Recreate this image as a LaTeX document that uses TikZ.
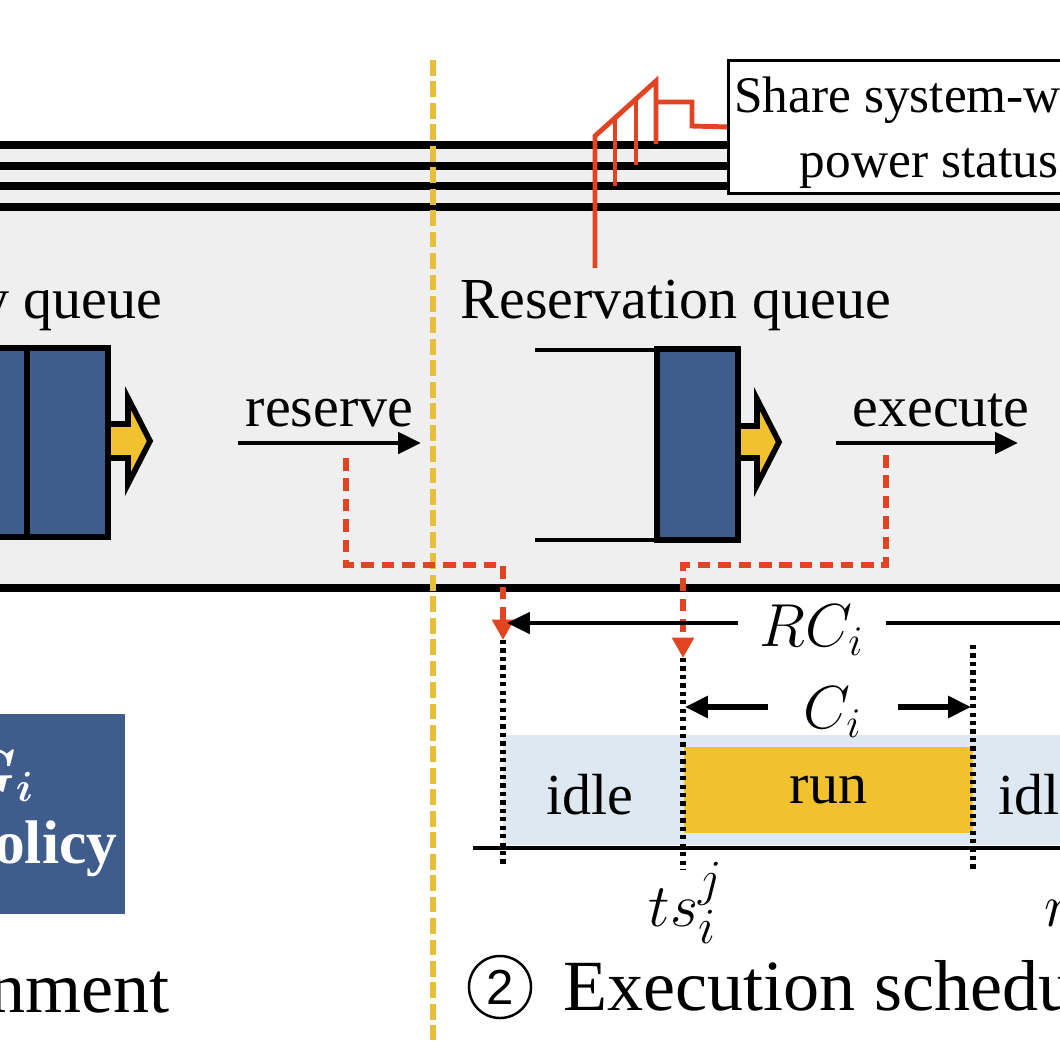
\documentclass[tikz,border=0pt]{standalone}
\usepackage{fontspec}
\setmainfont{Liberation Serif}
\newfontfamily\digitfont{Liberation Sans}
\usepackage{bm}
\usetikzlibrary{arrows.meta,positioning}

\definecolor{qblue}{RGB}{63,93,140}
\definecolor{qyellow}{RGB}{242,193,46}
\definecolor{sepyellow}{RGB}{232,191,61}
\definecolor{sigred}{RGB}{226,68,34}
\definecolor{bandgray}{RGB}{239,239,239}
\definecolor{idleblue}{RGB}{221,232,241}

\tikzset{
  lbl/.style={inner sep=0pt,font=\fontsize{16.5}{18.5}\selectfont},
  mathlbl/.style={inner sep=0pt,font=\fontsize{18}{20}\selectfont},
  bus/.style={line width=2.1pt},
  job/.style={draw,fill=qblue,line width=1.7pt},
  fatarrow/.style={draw,fill=qyellow,line width=1.6pt},
  sig/.style={draw=sigred,line width=1.4pt},
  sigdash/.style={draw=sigred,line width=1.5pt,dash pattern=on 3.6pt off 2.2pt,
    -{Triangle[length=5.8pt,width=6pt,fill=sigred]}},
  flow/.style={line width=1.2pt,-{Triangle[length=6.5pt,width=6pt]}},
  dotline/.style={line width=1.5pt,dash pattern=on 1.2pt off 1.2pt},
  sepline/.style={draw=sepyellow,line width=1.5pt,dash pattern=on 4.5pt off 1.6pt},
  bigtxt/.style={inner sep=0pt,font=\fontsize{20.5}{24}\selectfont}
}

\begin{document}
\begin{tikzpicture}[x=0.01cm,y=-0.01cm]
    \useasboundingbox (0,0) rectangle (1060,1060);
    \clip (0,0) rectangle (1060,1060);
    % band
    \fill[bandgray] (-20,145) rectangle (1080,588);
    \foreach \y in {145,166,186,207,588}
      \draw[bus] (-20,\y) -- (1080,\y);
    \node[draw,fill=white,line width=0.8pt,anchor=north west,
      minimum width=4cm,minimum height=1.33cm] (status) at (727,59) {};
    \node[align=center,inner sep=0pt,font=\fontsize{14.6}{18.5}\selectfont]
      (statuslbl) at (929,133) {Share system-wide\\power status};
    % separator
    \draw[sepline] (433,60) -- (433,1040);
    % tap
    \coordinate (tap) at (595,268);
    \draw[sig] (tap) -- (595,136) -- (656,81) -- (656,144);
    \draw[sig] (615,118) -- (615,186);
    \draw[sig] (636,99) -- (636,165);
    \draw[sig] (656,102) -- (692,102) -- (692,126) -- (status.west);
    % queues
    \node[lbl,anchor=base east] (rdq) at (163,318) {Ready queue};
    \node[lbl,anchor=base west] (rsq) at (460,318) {Reservation queue};
    \draw[job] (-60,348) rectangle (27,537);
    \draw[job] (27,348) rectangle (108,537);
    \draw[fatarrow] (108,424) -- (128,424) -- (128,398) -- (150,441)
      -- (128,484) -- (128,458) -- (108,458) -- cycle;
    \draw[line width=1.3pt] (535,350) -- (657,350) (535,540) -- (657,540);
    \draw[job] (657,349) rectangle (738,540);
    \draw[fatarrow] (738,426) -- (757,426) -- (757,399) -- (779,442)
      -- (757,485) -- (757,458) -- (738,458) -- cycle;
    % reserve / execute
    \coordinate (rsvA) at (238,443);
    \coordinate (rsvB) at (421,443);
    \draw[flow] (rsvA) -- (rsvB) node[lbl,midway,above=4pt] (rsvlbl) {reserve};
    \coordinate (exeA) at (836,443);
    \coordinate (exeB) at (1018,443);
    \draw[flow] (exeA) -- (exeB)
      node[lbl,midway,above=4pt,xshift=4pt] (exelbl) {execute};
    % timeline
    \fill[idleblue] (503,735) rectangle (1080,845);
    \node[lbl,fill=qyellow,minimum width=2.89cm,minimum height=0.86cm] (run)
      at (828.5,790) {run};
    \node[lbl] (idle1) at (590,795) {idle};
    \node[lbl,anchor=west] (idle2) at (998,795) {idle};
    \draw[line width=1.2pt] (473,848) -- (1080,848);
    \coordinate (t0) at (503,640);
    \coordinate (t0b) at (503,866);
    \coordinate (t1) at (683,658);
    \coordinate (t1b) at (683,870);
    \coordinate (t2) at (973,645);
    \coordinate (t2b) at (973,870);
    \draw[dotline] (t0) -- (t0b);
    \draw[dotline] (t1) -- (t1b);
    \draw[dotline] (t2) -- (t2b);
    % dashed signals
    \coordinate (rsvtap) at (346,458);
    \coordinate (exetap) at (886,455);
    \draw[sigdash] (rsvtap) |- (503,565) -- (t0);
    \draw[sigdash] (exetap) |- (683,565) -- (t1);
    % spans
    \node[mathlbl] (rc) at (812,630) {$RC_i$};
    \coordinate (rcL) at (507,623);
    \coordinate (rcR) at (1100,623);
    \draw[flow] ([xshift=-6pt]rc.west |- rcL) -- (rcL);
    \draw[flow] ([xshift=6pt]rc.east |- rcR) -- (rcR);
    \node[mathlbl,inner xsep=10pt] (ci) at (833,712) {$C_i$};
    \coordinate (ciL) at (685,707);
    \coordinate (ciR) at (971,707);
    \draw[flow,line width=1.5pt] (ci.west |- ciL) -- (ciL);
    \draw[flow,line width=1.5pt] (ci.east |- ciR) -- (ciR);
    \node[mathlbl,font=\fontsize{19}{20}\selectfont] (ts) at (686,903) {$ts_i^j$};
    \node[mathlbl,font=\fontsize{19}{20}\selectfont,anchor=west] (rs)
      at (1044,903) {$r_i^j$};
    % policy
    \node[fill=qblue,text=white,font=\bfseries\fontsize{17.5}{20}\selectfont,
      align=center,anchor=north east,minimum height=2cm,inner xsep=2.3pt] (pol)
      at (126,713) {$\bm{G_i}$\\by policy};
    \node[bigtxt,anchor=base east] (step1) at (170,1012) {Power assignment};
    \node[circle,draw,line width=0.7pt,minimum size=0.62cm,inner sep=0pt,
      font=\digitfont\fontsize{14}{14}\selectfont] (c2) at (500,987) {2};
    \node[bigtxt,anchor=base west] (step2) at (563,1010) {Execution scheduling};
\end{tikzpicture}
\end{document}
